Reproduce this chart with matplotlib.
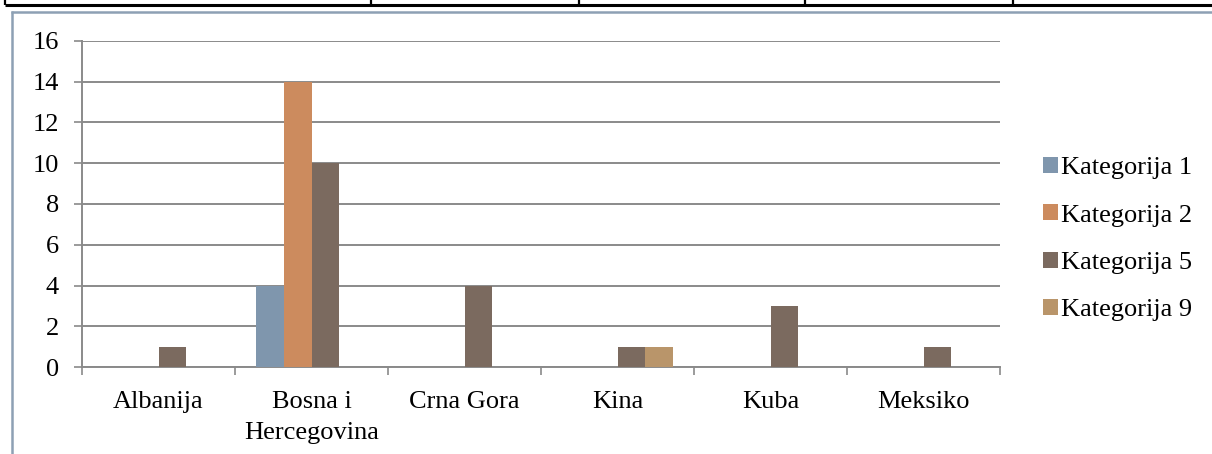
import matplotlib
matplotlib.use("Agg")
import matplotlib.pyplot as plt
import numpy as np
from matplotlib.patches import Patch

categories = ["Albanija", "Bosna i\nHercegovina", "Crna Gora", "Kina", "Kuba", "Meksiko"]
series_names = ["Kategorija 1", "Kategorija 2", "Kategorija 5", "Kategorija 9"]
kat1 = [0, 4, 0, 0, 0, 0]
kat2 = [0, 14, 0, 0, 0, 0]
kat5 = [1, 10, 4, 1, 3, 1]
kat9 = [0, 0, 0, 1, 0, 0]
yticks = [0, 2, 4, 6, 8, 10, 12, 14, 16]

colors = ["#7F96AD", "#CC8B5E", "#7B6A5F", "#B9956A"]
grid_c = "#8A8A8A"
font = "Liberation Serif"
fs = 19

W, H = 1212, 454
fig = plt.figure(figsize=(W / 100, H / 100), dpi=100)

# background overlay for table and frame lines
bg = fig.add_axes([0, 0, 1, 1], zorder=-5)
bg.set_xlim(0, W)
bg.set_ylim(H, 0)
bg.axis("off")
bg.plot([5, W], [5, 5], color="black", lw=2.2, solid_capstyle="butt")
for xv in [5, 371, 579, 805, 1013]:
    bg.plot([xv, xv], [0, 5], color="black", lw=1.6, solid_capstyle="butt")
bg.plot([11, W], [11.5, 11.5], color="#8DA0B4", lw=1.8, solid_capstyle="butt")
bg.plot([11.5, 11.5], [11, H], color="#8DA0B4", lw=1.8, solid_capstyle="butt")

left, right, top, bottom = 82, 1000, 41, 367
ax = fig.add_axes([left / W, (H - bottom) / H, (right - left) / W, (bottom - top) / H])

x = np.arange(len(categories))
w = 0.183
data = [kat1, kat2, kat5, kat9]
for i, (vals, c, name) in enumerate(zip(data, colors, series_names)):
    ax.bar(x + (i - 1.5) * w, vals, width=w, color=c, edgecolor="none", label=name, zorder=3)

ax.set_xlim(-0.5, len(categories) - 0.5)
ax.set_ylim(0, 16)
ax.set_yticks(yticks)
ax.set_yticklabels([str(v) for v in yticks], fontsize=fs, family=font)
ax.yaxis.grid(True, color=grid_c, lw=1.4, zorder=0)
ax.set_axisbelow(True)

ax.set_xticks(x)
ax.set_xticklabels(categories, fontsize=fs, family=font, linespacing=1.55)
ax.set_xticks(np.arange(-0.5, len(categories)), minor=True)
ax.tick_params(axis="x", which="major", length=0, pad=17)
ax.tick_params(axis="x", which="minor", length=5.5, width=1.2, color=grid_c, direction="out")
ax.tick_params(axis="y", length=5.5, width=1.2, color=grid_c, pad=11, direction="out")

for s in ["top", "right"]:
    ax.spines[s].set_visible(False)
for s in ["left", "bottom"]:
    ax.spines[s].set_color(grid_c)
    ax.spines[s].set_linewidth(1.4)

handles = [Patch(facecolor=c, edgecolor="none") for c in colors]
leg = fig.legend(handles, series_names, loc="upper left",
                 bbox_to_anchor=(1043 / W, (H - 157) / H),
                 prop={"family": font, "size": fs}, frameon=False,
                 handlelength=0.55, handleheight=0.55, handletextpad=0.15,
                 labelspacing=0.95, borderpad=0, borderaxespad=0)

fig.savefig("out.png", dpi=100)
